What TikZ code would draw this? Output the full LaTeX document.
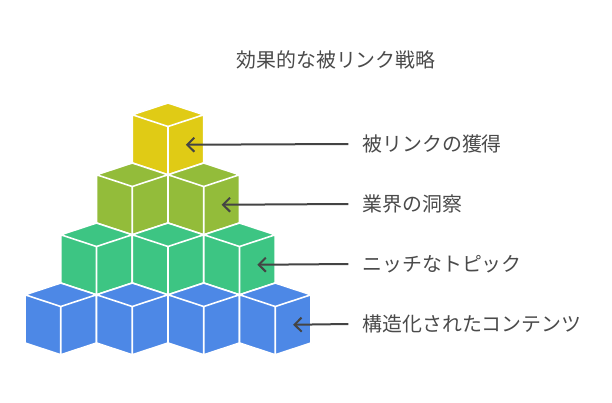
\documentclass[tikz,border=0pt]{standalone}
\usepackage{fontspec}
\setmainfont{Noto Sans CJK JP}
\usetikzlibrary{arrows.meta}
\definecolor{cube-yellow}{HTML}{E0CB15}
\definecolor{cube-olive}{HTML}{93BC3A}
\definecolor{cube-green}{HTML}{3DC583}
\definecolor{cube-blue}{HTML}{4D88E6}
\definecolor{arrow-gray}{HTML}{444444}
\definecolor{text-gray}{HTML}{4A4A4A}
\tikzset{
    iso-cube/.pic = {
        \filldraw[fill=#1, draw=white, line width=1.6pt, line join=round]
            (0,-11.75) -- (35.75,0) -- (0,11.75) -- (-35.75,0) -- cycle
            (-35.75,0) -- (0,11.75) -- (0,60) -- (-35.75,48.25) -- cycle
            (0,11.75) -- (35.75,0) -- (35.75,48.25) -- (0,60) -- cycle;
        \coordinate (-face) at (17.875,30);
    },
    label-text/.style = {text=text-gray, font=\fontsize{19.9pt}{23pt}\selectfont, anchor=west, inner xsep=14pt, inner ysep=0pt},
    title-text/.style = {text=text-gray, font=\fontsize{19.9pt}{23pt}\selectfont, inner sep=0pt},
    pointer/.style = {draw=arrow-gray, line width=2pt, -{Straight Barb[length=7pt, width=14pt]}},
}

\begin{document}
\begin{tikzpicture}[x=1pt, y=-1pt]
\useasboundingbox (0,0) rectangle (612,402);
\node[title-text] (title) at (336,60) {効果的な被リンク戦略};

% top row
\pic (top) at (168,114.75) {iso-cube=cube-yellow};
% second row
\pic at (132.25,174.75) {iso-cube=cube-olive};
\pic (olive) at (203.75,174.75) {iso-cube=cube-olive};
% third row
\pic at (96.5,234.75) {iso-cube=cube-green};
\pic at (168,234.75) {iso-cube=cube-green};
\pic (green) at (239.5,234.75) {iso-cube=cube-green};
% bottom row
\pic at (60.75,294.75) {iso-cube=cube-blue};
\pic at (132.25,294.75) {iso-cube=cube-blue};
\pic at (203.75,294.75) {iso-cube=cube-blue};
\pic (blue) at (275.25,294.75) {iso-cube=cube-blue};

\node[label-text] (backlinks) at (348.3,144) {被リンクの獲得};
\node[label-text] (insight) at (348.3,204) {業界の洞察};
\node[label-text] (niche) at (348.3,264) {ニッチなトピック};
\node[label-text] (content) at (348.3,324) {構造化されたコンテンツ};

\draw[pointer] (backlinks.west) -- (top-face);
\draw[pointer] (insight.west) -- (olive-face);
\draw[pointer] (niche.west) -- (green-face);
\draw[pointer] (content.west) -- (blue-face);
\end{tikzpicture}
\end{document}
